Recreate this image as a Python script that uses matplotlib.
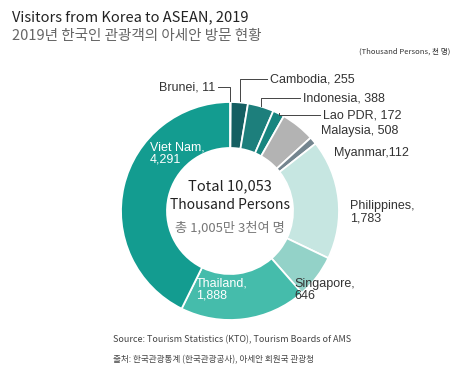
import numpy as np
import matplotlib.pyplot as plt

plt.rcParams['font.family'] = ['Noto Sans CJK KR', 'DejaVu Sans']

countries = ['Brunei', 'Cambodia', 'Indonesia', 'Lao PDR', 'Malaysia', 'Myanmar',
             'Philippines', 'Singapore', 'Thailand', 'Viet Nam']
visitors = [11, 255, 388, 172, 508, 112, 1783, 646, 1888, 4291]
colors = ['#e8e8e8', '#155f62', '#1d7f7c', '#17857f', '#b3b3b3', '#74858f',
          '#c6e6e1', '#93d2c8', '#45bcab', '#139c90']

H = 374
fig = plt.figure(figsize=(4.62, 3.74), dpi=100)
ax = fig.add_axes([0, 0, 1, 1])

cx, cy, r = 230, H - 211, 109
ax.pie(visitors, colors=colors, startangle=90, counterclock=False,
       center=(cx, cy), radius=r, frame=True,
       wedgeprops=dict(width=46, edgecolor='white', linewidth=1.3))
ax.set_xlim(0, 462)
ax.set_ylim(0, H)
ax.set_aspect('equal')
ax.axis('off')

def y(p):
    return H - p

# mid angle of each wedge (clockwise from top), for leader lines
cum = np.cumsum(visitors) - np.array(visitors) / 2
mid = np.deg2rad(cum / sum(visitors) * 360)
def edge(i, rr=r + 1):
    return cx + rr * np.sin(mid[i]), cy + rr * np.cos(mid[i])

# titles
ax.text(12, y(17), 'Visitors from Korea to ASEAN, 2019', fontsize=10.5, color='#222222', va='center')
ax.text(12, y(36), '2019년 한국인 관광객의 아세안 방문 현황', fontsize=10.5, color='#666666', va='center')
ax.text(450, y(52), '(Thousand Persons, 천 명)', fontsize=5.5, color='#333333', va='center', ha='right')

lab = dict(fontsize=9, color='#333333', va='center', family=['Liberation Sans', 'DejaVu Sans'])
ax.text(215, y(87), 'Brunei, 11', ha='right', **lab)
ax.text(270, y(79), 'Cambodia, 255', ha='left', **lab)
ax.text(303, y(98), 'Indonesia, 388', ha='left', **lab)
ax.text(323, y(115), 'Lao PDR, 172', ha='left', **lab)
ax.text(321, y(131), 'Malaysia, 508', ha='left', **lab)
ax.text(334, y(153), 'Myanmar,112', ha='left', **lab)
ax.text(350, y(212), 'Philippines,\n1,783', ha='left', linespacing=1.0, **lab)
ax.text(294, y(290), 'Singapore,\n646', ha='left', linespacing=1.0, **lab)
wl = dict(lab, color='white')
ax.text(196, y(290), 'Thailand,\n1,888', ha='left', linespacing=1.0, **wl)
ax.text(150, y(153), 'Viet Nam,\n4,291', ha='left', linespacing=1.0, **wl)

# leader lines
lc = dict(color='#444444', lw=0.7)
for i, (x0, ly) in zip([0, 1, 2, 3], [(218, 87), (267, 79), (300, 98), (320, 115)]):
    ex, ey = edge(i)
    ax.plot([x0, ex, ex], [y(ly), y(ly), ey], **lc)

# center text
ax.text(cx, y(186), 'Total 10,053', fontsize=10.5, color='#222222', ha='center', va='center')
ax.text(cx, y(205), 'Thousand Persons', fontsize=10, color='#222222', ha='center', va='center')
ax.text(cx, y(228), '총 1,005만 3천여 명', fontsize=9.5, color='#777777', ha='center', va='center')

# source
ax.text(113, y(340), 'Source: Tourism Statistics (KTO), Tourism Boards of AMS', fontsize=6.5, color='#444444', va='center')
ax.text(113, y(360), '출처: 한국관광통계 (한국관광공사), 아세안 회원국 관광청', fontsize=6.2, color='#444444', va='center')

fig.savefig('out.png', dpi=100)
